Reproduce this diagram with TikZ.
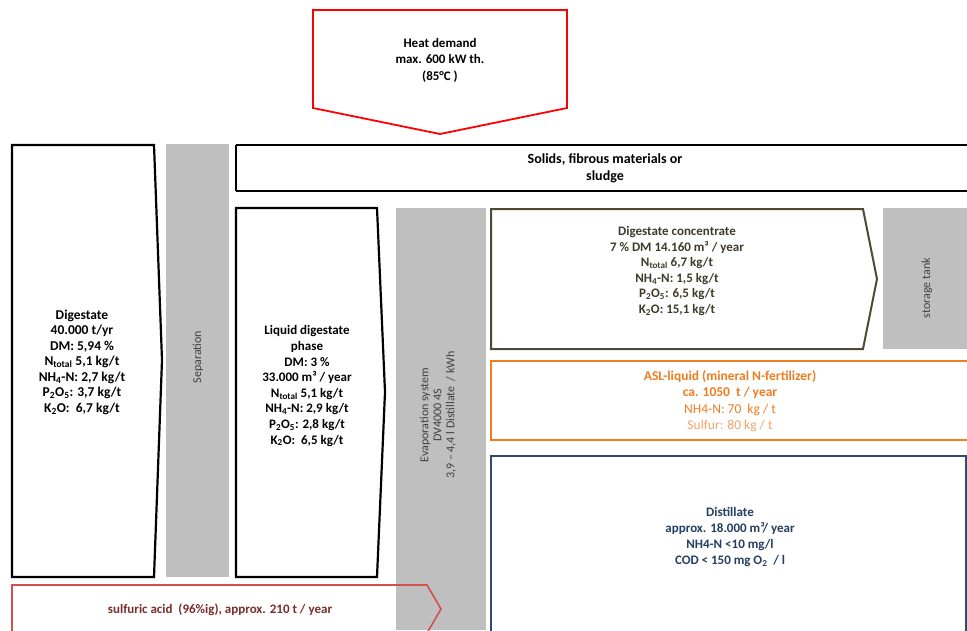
\documentclass[tikz,border=0pt]{standalone}
\usepackage{fontspec}
\setmainfont{Carlito}
\begin{document}
\begin{tikzpicture}[x=1pt,y=-1pt,
  blk/.style={draw=black,line width=2.2pt,line join=miter,fill=white},
  txt/.style={align=center,font=\bfseries\fontsize{13}{15.6}\selectfont,inner sep=0pt},
  rtxt/.style={align=center,font=\fontsize{12}{13}\selectfont,inner sep=0pt,rotate=90,text=darkgraytxt}]
\definecolor{gray75}{HTML}{BFBFBF}
\definecolor{darkgraytxt}{HTML}{404040}
\definecolor{heatred}{HTML}{FF0000}
\definecolor{acidred}{HTML}{D0504D}
\definecolor{acidtxt}{HTML}{7B2C2C}
\definecolor{olive}{HTML}{4F4A33}
\definecolor{orng}{HTML}{F07D22}
\definecolor{orngl}{HTML}{F4A36A}
\definecolor{navy}{HTML}{2F4A6F}
\definecolor{navytxt}{HTML}{243F63}
\useasboundingbox[fill=white] (0,0) rectangle (967,630);
% gray blocks
\fill[gray75] (166,144) rectangle (229,577);
\fill[gray75] (396,208) rectangle (486,630);
\fill[gray75] (883,208) rectangle (967,349);
% heat demand
\draw[draw=heatred,line width=1.8pt,fill=white] (313,10) -- (567,10) -- (567,108) -- (440,134) -- (313,108) -- cycle;
\node[txt,font=\bfseries\fontsize{13}{16.5}\selectfont] (heat) at (440,60) {Heat demand\\max. 600 kW th.\\(85°C )};
% solids
\draw[line width=2.2pt] (236,145) -- (970,145) (236,191) -- (970,191) (236,145) -- (236,191);
\node[txt,font=\bfseries\fontsize{14}{17}\selectfont] (solids) at (605,168) {Solids, fibrous materials or\\sludge};
% digestate
\draw[blk] (12,145) -- (154,145) -- (162,360) -- (154,577) -- (12,577) -- cycle;
\node[txt,font=\bfseries\fontsize{13.5}{15.5}\selectfont] (dig) at (82,362) {Digestate\\40.000 t/yr\\DM: 5,94 \%\\N\textsubscript{total} 5,1 kg/t\\NH\textsubscript{4}-N: 2,7 kg/t\\P\textsubscript{2}O\textsubscript{5}: 3,7 kg/t\\K\textsubscript{2}O:\ \ 6,7 kg/t};
\node[rtxt] (sep) at (198,357) {Separation};
% liquid digestate
\draw[blk] (236,208) -- (377,208) -- (385,392) -- (377,577) -- (236,577) -- cycle;
\node[txt] (liq) at (307,386) {Liquid digestate\\phase\\DM: 3 \%\\33.000 m³ / year\\N\textsubscript{total} 5,1 kg/t\\NH\textsubscript{4}-N: 2,9 kg/t\\P\textsubscript{2}O\textsubscript{5}: 2,8 kg/t\\K\textsubscript{2}O:\ \ 6,5 kg/t};
\node[rtxt] (evap) at (438,415) {Evaporation system\\DV4000 4S\\3,9 -- 4,4 l Distillate\ \ / kWh};
% concentrate
\draw[draw=olive,line width=2pt,fill=white] (491,209) -- (863,209) -- (877,279) -- (863,349) -- (491,349) -- cycle;
\node[txt,text=olive!80!black] (conc) at (677,271) {Digestate concentrate\\7 \% DM 14.160 m³ / year\\N\textsubscript{total} 6,7 kg/t\\NH\textsubscript{4}-N: 1,5 kg/t\\P\textsubscript{2}O\textsubscript{5}: 6,5 kg/t\\K\textsubscript{2}O: 15,1 kg/t};
\node[rtxt] (tank) at (927,288) {storage tank};
% ASL
\draw[draw=orng,line width=2pt] (970,361) -- (491,361) -- (491,440) -- (970,440);
\node[inner sep=0pt,align=center,text=orng,font=\fontsize{13.5}{16.3}\selectfont] (asl) at (730,401) {\textbf{ASL-liquid (mineral N-fertilizer)}\\\textbf{ca. 1050\ \ t / year}\\NH4-N: 70\ \ kg / t\\\textcolor{orngl}{Sulfur: 80 kg / t}};
% distillate
\draw[draw=navy,line width=2pt] (491,633) -- (491,456) -- (966,456) -- (966,633);
\node[txt,text=navytxt,font=\bfseries\fontsize{13}{16}\selectfont] (dist) at (730,537) {Distillate\\approx. 18.000 m³/ year\\NH4-N <10 mg/l\\COD < 150 mg O\textsubscript{2}\ \ / l};
% sulfuric acid
\draw[draw=acidred,line width=1.6pt] (12,633) -- (12,585) -- (427,585) -- (441,609) -- (427,633);
\node[txt,text=acidtxt] (acid) at (220,610) {sulfuric acid\ \ (96\%ig), approx. 210 t / year};
\end{tikzpicture}
\end{document}
